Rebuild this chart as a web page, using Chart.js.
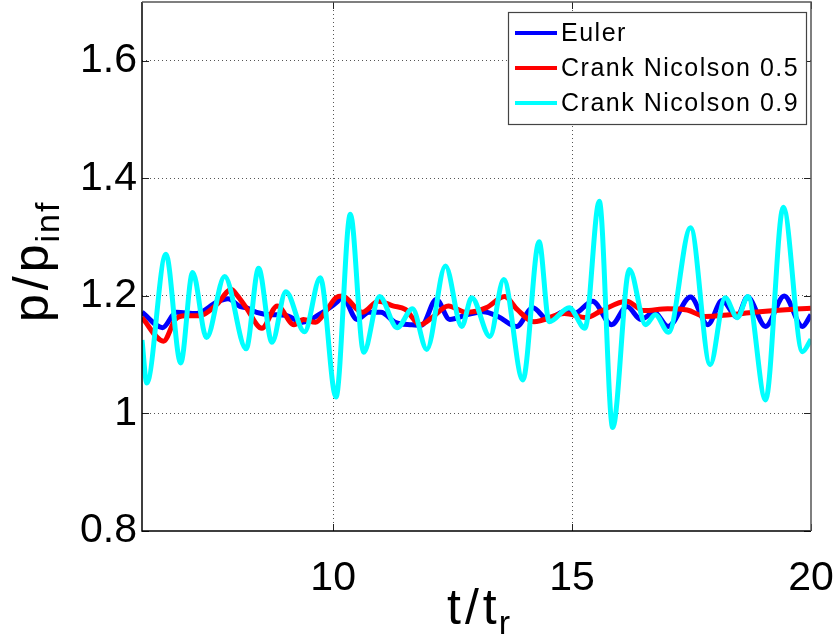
<!DOCTYPE html>
<html><head><meta charset="utf-8">
<script src="https://cdn.jsdelivr.net/npm/chart.js@4.4.1/dist/chart.umd.min.js"></script>
<style>html,body{margin:0;padding:0;background:#fff;} #wrap{width:835px;height:634px;position:relative;overflow:hidden;}</style>
</head><body><div id="wrap"><canvas id="c" width="835" height="634"></canvas></div>
<script>
// ---- data ----
const seriesNames = ['Euler', 'Crank Nicolson 0.5', 'Crank Nicolson 0.9'];
const seriesColors = ['#0000ff', '#ff0000', '#00ffff'];

const eulerT = [6.00,6.43,6.72,7.14,7.56,7.80,8.05,8.18,8.40,8.70,9.00,9.36,9.70,10.09,10.19,10.50,10.75,11.00,11.30,11.65,11.85,12.16,12.44,12.80,13.14,13.45,13.84,14.18,14.49,14.83,15.05,15.43,15.83,16.15,16.44,16.72,17.01,17.48,17.84,18.14,18.45,18.67,19.05,19.44,19.82,20.00];
const eulerP = [1.172,1.146,1.172,1.170,1.189,1.195,1.182,1.180,1.172,1.168,1.167,1.155,1.168,1.190,1.199,1.160,1.172,1.172,1.155,1.151,1.150,1.194,1.160,1.168,1.173,1.165,1.148,1.180,1.160,1.173,1.170,1.191,1.151,1.182,1.160,1.172,1.148,1.198,1.151,1.192,1.164,1.198,1.148,1.200,1.148,1.168];

const cn05T = [6.00,6.45,6.70,6.90,7.20,7.56,7.87,8.00,8.18,8.51,8.83,9.18,9.38,9.63,9.85,10.06,10.19,10.61,10.95,11.25,11.51,11.82,12.07,12.41,12.79,13.21,13.59,13.85,14.20,14.84,15.30,15.60,16.14,16.50,17.00,17.41,17.78,18.30,18.80,19.40,20.00];
const cn05P = [1.163,1.123,1.160,1.166,1.166,1.185,1.211,1.200,1.180,1.145,1.183,1.151,1.160,1.155,1.174,1.197,1.200,1.172,1.191,1.183,1.177,1.151,1.163,1.183,1.172,1.180,1.199,1.177,1.156,1.170,1.163,1.174,1.191,1.175,1.178,1.176,1.165,1.168,1.172,1.176,1.179];

const cn09T = [6.00,6.10,6.50,6.81,7.06,7.35,7.73,8.18,8.44,8.72,9.01,9.40,9.73,10.06,10.36,10.64,10.97,11.34,11.66,11.96,12.35,12.69,12.90,13.28,13.57,13.97,14.31,14.52,14.94,15.27,15.57,15.85,16.20,16.54,16.74,17.02,17.48,17.89,18.20,18.46,18.68,19.05,19.42,19.82,20.00];
const cn09P = [1.125,1.052,1.271,1.086,1.240,1.129,1.233,1.110,1.247,1.121,1.207,1.139,1.231,1.028,1.339,1.104,1.199,1.146,1.178,1.109,1.251,1.148,1.197,1.131,1.228,1.057,1.292,1.156,1.180,1.145,1.361,0.976,1.245,1.151,1.168,1.138,1.316,1.083,1.197,1.163,1.199,1.023,1.351,1.105,1.126];

const xTicks = [10, 15, 20];
const yTicks = [0.8, 1.0, 1.2, 1.4, 1.6];
const xTitle = 't/t', xTitleSub = 'r';
const yTitle = 'p/p', yTitleSub = 'inf';

const toPts = (ts, ps) => ts.map((t, i) => ({x: t, y: ps[i]}));
const seriesData = [toPts(eulerT, eulerP), toPts(cn05T, cn05P), toPts(cn09T, cn09P)];

const FONT = "'Liberation Sans', Arial, Helvetica, sans-serif";

function setLS(ctx, v) { try { ctx.letterSpacing = v; } catch (e) {} }

const framePlugin = {
  id: 'frame',
  afterDatasetsDraw(chart) {
    const {ctx, chartArea: a, scales} = chart;
    ctx.save();
    // inner tick marks
    ctx.strokeStyle = '#222'; ctx.lineWidth = 1;
    const tl = 7;
    yTicks.forEach(v => {
      const y = Math.round(scales.y.getPixelForValue(v)) + 0.5;
      ctx.beginPath(); ctx.moveTo(a.left, y); ctx.lineTo(a.left + tl, y);
      ctx.moveTo(a.right, y); ctx.lineTo(a.right - tl, y); ctx.stroke();
    });
    xTicks.forEach(v => {
      const x = Math.round(scales.x.getPixelForValue(v)) + 0.5;
      ctx.beginPath(); ctx.moveTo(x, a.bottom); ctx.lineTo(x, a.bottom - tl);
      ctx.moveTo(x, a.top); ctx.lineTo(x, a.top + tl); ctx.stroke();
    });
    // box
    ctx.strokeStyle = '#000'; ctx.lineWidth = 1.5;
    ctx.beginPath();
    ctx.moveTo(a.left, a.top); ctx.lineTo(a.left, a.bottom); ctx.lineTo(a.right, a.bottom);
    ctx.stroke();
    ctx.strokeStyle = '#555'; ctx.lineWidth = 1.5;
    ctx.beginPath();
    ctx.moveTo(a.left, a.top); ctx.lineTo(a.right, a.top); ctx.lineTo(a.right, a.bottom);
    ctx.stroke();

    // legend
    const lx = 508, ly = 12, lw = 298, lh = 112;
    ctx.fillStyle = '#fff'; ctx.fillRect(lx, ly, lw, lh);
    ctx.strokeStyle = '#444'; ctx.lineWidth = 1.2;
    ctx.strokeRect(lx + 0.5, ly + 0.5, lw, lh);
    ctx.font = '25px ' + FONT;
    setLS(ctx, '1.5px');
    ctx.textBaseline = 'middle'; ctx.textAlign = 'left';
    chart.data.datasets.forEach((ds, i) => {
      const yy = ly + 21 + i * 35;
      ctx.strokeStyle = ds.borderColor; ctx.lineWidth = 4;
      ctx.beginPath(); ctx.moveTo(lx + 7, yy); ctx.lineTo(lx + 49, yy); ctx.stroke();
      ctx.fillStyle = '#000';
      ctx.fillText(ds.label, lx + 53, yy + 1);
    });

    // axis titles
    ctx.fillStyle = '#000';
    ctx.textBaseline = 'alphabetic';
    ctx.textAlign = 'left';
    setLS(ctx, '4px');
    ctx.font = '50px ' + FONT;
    const xw = ctx.measureText(xTitle).width;
    const x0 = 447;
    ctx.fillText(xTitle, x0, 624);
    setLS(ctx, '2px');
    ctx.font = '34px ' + FONT;
    ctx.fillText(xTitleSub, x0 + xw - 2, 634);

    ctx.translate(48, 0); ctx.rotate(-Math.PI / 2);
    setLS(ctx, '4px');
    ctx.font = '50px ' + FONT;
    const yw = ctx.measureText(yTitle).width;
    const y0 = -322;
    ctx.fillText(yTitle, y0, 0);
    setLS(ctx, '2px');
    ctx.font = '34px ' + FONT;
    ctx.fillText(yTitleSub, y0 + yw - 2, 11);
    setLS(ctx, '0px');
    ctx.restore();
  }
};

const datasets = seriesData.map((d, i) => ({
  label: seriesNames[i],
  data: d,
  borderColor: seriesColors[i],
  backgroundColor: seriesColors[i],
  borderWidth: 5,
  pointRadius: 0,
  fill: false,
  cubicInterpolationMode: 'monotone',
  clip: 0,
  order: 3 - i
}));

new Chart(document.getElementById('c'), {
  type: 'line',
  data: {datasets},
  options: {
    responsive: false,
    animation: false,
    events: [],
    layout: {padding: {left: 0, top: 2, right: 24, bottom: 0}},
    plugins: {legend: {display: false}, tooltip: {enabled: false}, title: {display: false}},
    scales: {
      x: {
        type: 'linear', min: 6, max: 20,
        afterBuildTicks: s => { s.ticks = xTicks.map(v => ({value: v})); },
        afterFit: s => { s.height = 103; s.paddingLeft = 0; s.paddingRight = 0; },
        ticks: {font: {size: 41, family: FONT}, color: '#000', padding: 23, maxRotation: 0, autoSkip: false,
                callback: v => String(v)},
        grid: {drawTicks: false, lineWidth: 1,
               color: c => (c.tick && c.tick.value === 20) ? 'rgba(0,0,0,0)' : '#555'},
        border: {display: false, dash: [1, 3]}
      },
      y: {
        type: 'linear', min: 0.8, max: 1.7,
        afterBuildTicks: s => { s.ticks = yTicks.map(v => ({value: v})); },
        afterFit: s => { s.width = 142; s.paddingTop = 0; s.paddingBottom = 0; },
        ticks: {font: {size: 41, family: FONT}, color: '#000', padding: 5, autoSkip: false,
                callback: v => String(parseFloat(Number(v).toFixed(1)))},
        grid: {drawTicks: false, lineWidth: 1,
               color: c => (c.tick && Math.abs(c.tick.value - 0.8) < 1e-6) ? 'rgba(0,0,0,0)' : '#555'},
        border: {display: false, dash: [1, 3]}
      }
    }
  },
  plugins: [framePlugin]
});
</script>
</body></html>
